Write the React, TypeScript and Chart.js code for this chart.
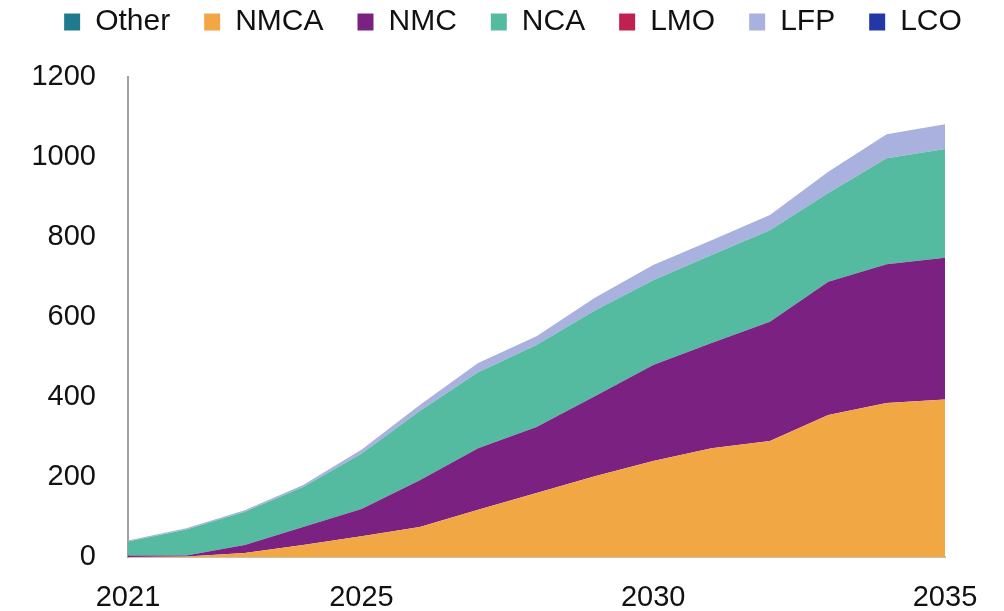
import React, { useEffect, useRef } from "react";
import { Chart, registerables } from "chart.js";

Chart.register(...registerables);

const years = ["2021", "2022", "2023", "2024", "2025", "2026", "2027", "2028", "2029", "2030", "2031", "2032", "2033", "2034", "2035"];
const shownYears = ["2021", "2025", "2030", "2035"];
const yTicks = [0, 200, 400, 600, 800, 1000, 1200];

const other = [0, 0, 0, 0, 0, 0, 0, 0, 0, 0, 0, 0, 0, 0, 0];
const nmca = [0, 1, 10, 30, 52, 75, 118, 160, 202, 240, 272, 290, 355, 385, 394];
const nmc = [4, 3, 20, 45, 68, 117, 154, 165, 200, 240, 263, 298, 333, 347, 354];
const nca = [35, 65, 83, 100, 138, 173, 190, 205, 214, 212, 220, 229, 222, 265, 272];
const lmo = [0, 0, 0, 0, 0, 0, 0, 0, 0, 0, 0, 0, 0, 0, 0];
const lfp = [2, 3, 4, 5, 10, 15, 23, 22, 32, 38, 37, 38, 53, 60, 62];
const lco = [0, 0, 0, 0, 0, 0, 0, 0, 0, 0, 0, 0, 0, 0, 0];

const seriesNames = ["Other", "NMCA", "NMC", "NCA", "LMO", "LFP", "LCO"];
const seriesValues = [other, nmca, nmc, nca, lmo, lfp, lco];
const seriesColors = ["#1F7A90", "#F2A745", "#7B2182", "#55BBA0", "#C0214F", "#A9B1DE", "#2338A6"];

const FONT = "'Liberation Sans', Arial, Helvetica, sans-serif";

export default function App() {
  const ref = useRef<HTMLCanvasElement | null>(null);

  useEffect(() => {
    document.body.style.margin = "0";
    if (!ref.current) return;
    const chart = new Chart(ref.current, {
      type: "line",
      data: {
        labels: years,
        datasets: seriesNames.map((name, i) => ({
          label: name,
          data: seriesValues[i],
          backgroundColor: seriesColors[i],
          borderColor: seriesColors[i],
          borderWidth: 0,
          pointRadius: 0,
          tension: 0,
          fill: i === 0 ? "origin" : "-1",
        })),
      },
      options: {
        animation: false,
        responsive: false,
        devicePixelRatio: 1,
        layout: { padding: { top: -27, left: 22, right: 0, bottom: 0 } },
        plugins: {
          tooltip: { enabled: false },
          legend: {
            display: true,
            position: "top",
            labels: {
              boxWidth: 16,
              boxHeight: 17,
              padding: 34,
              color: "#111111",
              font: { family: FONT, size: 30 },
            },
          },
          title: {
            display: true,
            text: " ",
            weight: 500,
            padding: 0,
            font: { family: FONT, size: 30, lineHeight: 1 },
          },
        },
        scales: {
          x: {
            grid: { display: false, drawTicks: false },
            border: { display: true, color: "#c9c0b0", width: 2 },
            ticks: {
              autoSkip: false,
              maxRotation: 0,
              padding: 24,
              color: "#111111",
              font: { family: FONT, size: 29 },
              callback: (_v: any, idx: number) => (shownYears.includes(years[idx]) ? years[idx] : ""),
            },
            afterFit: (scale: any) => {
              scale.height = 54;
              scale.paddingRight = 59;
            },
          },
          y: {
            stacked: true,
            min: yTicks[0],
            max: yTicks[yTicks.length - 1],
            grid: { display: false, drawTicks: false },
            border: { display: true, color: "#a0a0a0", width: 2 },
            ticks: {
              stepSize: yTicks[1] - yTicks[0],
              padding: 32,
              color: "#111111",
              font: { family: FONT, size: 29 },
              callback: (v: any) => String(v),
            },
            afterFit: (scale: any) => {
              scale.width = 106;
            },
          },
        },
      },
    });
    return () => chart.destroy();
  }, []);

  return (
    <div style={{ width: 1004, height: 611 }}>
      <canvas ref={ref} width={1004} height={611} style={{ display: "block" }} />
    </div>
  );
}
